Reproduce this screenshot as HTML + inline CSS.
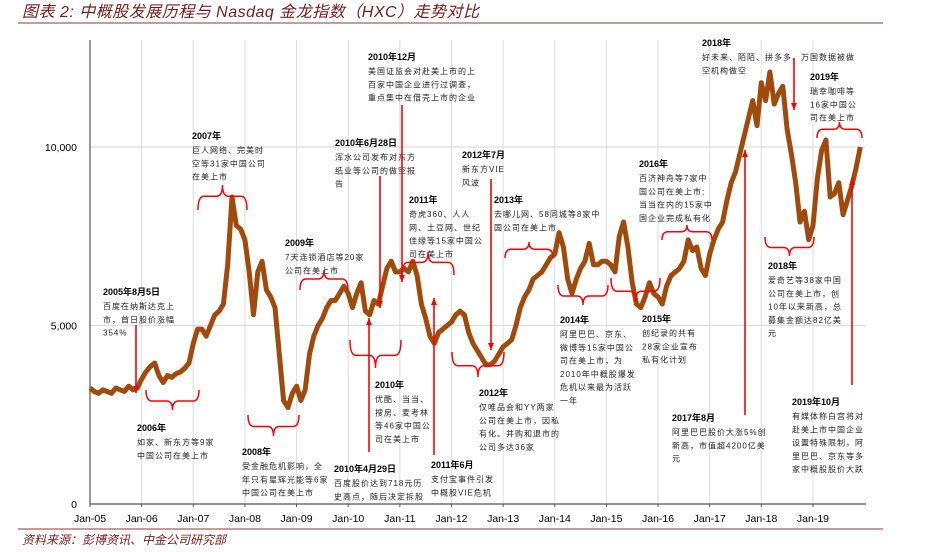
<!DOCTYPE html>
<html><head><meta charset="utf-8"><style>
body{margin:0;background:#fff;}
svg{display:block;}
.t{font-family:"Liberation Sans","Noto Sans CJK SC",sans-serif;}
.h{font-size:9px;font-weight:bold;fill:#000;}
.b{font-size:8px;fill:#222;letter-spacing:1px;}
.ax{font-size:10.5px;fill:#000;}
</style></head><body>
<svg id="chart" width="946" height="552" viewBox="0 0 946 552" xmlns="http://www.w3.org/2000/svg">
<text class="t" x="22" y="17" font-size="16" font-style="italic" fill="#7a1a1a" letter-spacing="0.5">图表 2:  中概股发展历程与 Nasdaq 金龙指数（HXC）走势对比</text>
<line x1="18" y1="23" x2="883" y2="23" stroke="#8a3a3a" stroke-width="1"/>
<line x1="18" y1="529" x2="883" y2="529" stroke="#8a3a3a" stroke-width="1"/>
<text class="t" x="22" y="544" font-size="12" font-style="italic" fill="#7a1a1a">资料来源：彭博资讯、中金公司研究部</text>
<g id="grid"></g>
<g id="axes"></g>
<g id="series"></g>
<g id="ann"></g>
</svg>
<script>
const startYear = 2005;
const yearLabels = ["Jan-05","Jan-06","Jan-07","Jan-08","Jan-09","Jan-10","Jan-11","Jan-12","Jan-13","Jan-14","Jan-15","Jan-16","Jan-17","Jan-18","Jan-19"];
const yTicks = [0,5000,10000];
const yTickLabels = ["0","5,000","10,000"];
const hxcMonthly = [
3250,3150,3100,3200,3150,3100,3250,3200,3150,3300,3200,3250,
3500,3700,3850,3950,3600,3400,3600,3550,3650,3700,3800,3950,
4500,4900,4900,4700,5000,5300,5400,5600,6700,8600,7800,7700,
7400,6500,5300,6500,6800,6000,5800,5500,4200,2900,2700,3100,
3300,2900,3200,4200,4700,5000,5200,5500,5700,5700,5900,6100,
5900,5500,5900,6200,5400,5300,5700,5600,6100,6600,6800,6500,
6500,6600,6500,6800,6400,5600,5200,4700,4500,4800,4900,5000,
5100,5300,5400,5300,4800,4500,4300,4100,3900,3900,4000,4200,
4400,4500,4600,5000,5500,5800,6000,6300,6400,6500,6700,6900,
7000,7600,7200,6300,5900,6300,6600,6800,7300,6700,6700,6800,
6800,6700,6500,7500,7900,7200,6200,5600,5500,5800,6200,5900,
5800,5600,6100,6400,6500,6600,6800,7400,7100,7200,6600,6400,
7000,7400,7700,7900,8500,9000,9300,9800,10300,10800,11300,10600,
11800,11300,12100,11200,11500,11700,10500,9800,9000,7900,8200,7400,
7800,9100,9900,10200,8600,8700,9000,8100,8500,8900,9400,10000];

const NS="http://www.w3.org/2000/svg";
const X0=90, YW=51.64, Y0=504, YS=178.5/5000, XEND=866;
const xs = yr => X0 + yr*YW;
const ys = v => Y0 - v*YS;
function mk(tag, attrs, parent){const e=document.createElementNS(NS,tag);for(const k in attrs)e.setAttribute(k,attrs[k]);parent.appendChild(e);return e;}
const grid=document.getElementById('grid'), axes=document.getElementById('axes'), series=document.getElementById('series'), ann=document.getElementById('ann');

yearLabels.forEach((lab,i)=>{
  const x=xs(i);
  if(i>0){const g=mk('line',{x1:x,y1:40,x2:x,y2:Y0,stroke:'#ddd','stroke-width':1},grid);
  
  }
  const tk=mk('line',{x1:x,y1:Y0,x2:x,y2:Y0+3,stroke:'#555'},axes);
  
  
  const t=mk('text',{x:x,y:Y0+18,'text-anchor':'middle',class:'t ax'},axes);t.textContent=lab;
  
  
});
yTicks.forEach((v,i)=>{
  const y=ys(v);
  if(v>0){const g=mk('line',{x1:X0,y1:y,x2:XEND,y2:y,stroke:'#ddd','stroke-width':1.2},grid);
  
  }
  const t=mk('text',{x:77,y:y+4,'text-anchor':'end',class:'t ax'},axes);t.textContent=yTickLabels[i];
  
  
});
const ya=mk('line',{x1:X0,y1:40,x2:X0,y2:Y0,stroke:'#555','stroke-width':1.2},axes);


const xa=mk('line',{x1:X0,y1:Y0,x2:XEND,y2:Y0,stroke:'#555','stroke-width':1.2},axes);



let d='';
hxcMonthly.forEach((v,i)=>{d+=(i?'L':'M')+xs(i/12).toFixed(1)+','+ys(v).toFixed(1);});
const ln=mk('path',{d:d,fill:'none',stroke:'#a04a0c','stroke-width':5,'stroke-linejoin':'round'},series);



const notes=[
[368,52,"2010年12月",["美国证监会对赴美上市的上","百家中国企业进行过调查，","重点集中在借壳上市的企业"]],
[192,131,"2007年",["巨人网络、完美时","空等31家中国公司","在美上市"]],
[335,138,"2010年6月28日",["浑水公司发布对东方","纸业等公司的做空报","告"]],
[462,150,"2012年7月",["新东方VIE","风波"]],
[494,195,"2013年",["去哪儿网、58同城等8家中","国公司在美上市"]],
[409,195,"2011年",["奇虎360、人人","网、土豆网、世纪","佳缘等15家中国公","司在美上市"]],
[285,238,"2009年",["7天连锁酒店等20家","公司在美上市"]],
[639,159,"2016年",["百济神舟等7家中","国公司在美上市;","当当在内的15家中","国企业完成私有化"]],
[702,38,"2018年",["好未来、陌陌、拼多多、万国数据被做","空机构做空"]],
[810,72,"2019年",["瑞幸咖啡等","16家中国公","司在美上市"]],
[103,287,"2005年8月5日",["百度在纳斯达克上","市，首日股价涨幅","354%"]],
[137,423,"2006年",["如家、新东方等9家","中国公司在美上市"]],
[242,447,"2008年",["受金融危机影响，全","年只有星辉光能等6家","中国公司在美上市"]],
[375,380,"2010年",["优酷、当当、","搜房、麦考林","等46家中国公","司在美上市"]],
[334,464,"2010年4月29日",["百度股价达到718元历","史高点，随后决定拆股"]],
[431,460,"2011年6月",["支付宝事件引发","中概股VIE危机"]],
[479,388,"2012年",["仅唯品会和YY两家","公司在美上市，因私","有化、并购和退市的","公司多达36家"]],
[560,315,"2014年",["阿里巴巴、京东、","微博等15家中国公","司在美上市，为","2010年中概股爆发","危机以来最为活跃","一年"]],
[642,314,"2015年",["创纪录的共有","28家企业宣布","私有化计划"]],
[672,413,"2017年8月",["阿里巴巴股价大涨5%创","新高，市值超4200亿美","元"]],
[768,261,"2018年",["爱奇艺等38家中国","公司在美上市，创","10年以来新高，总","募集金额达82亿美","元"]],
[792,397,"2019年10月",["有媒体称白宫将对","赴美上市中国企业","设置特殊限制，阿","里巴巴、京东等多","家中概股股价大跌"]]
];
notes.forEach(n=>{
  const g=mk('g',{},ann);
  
  
  const h=mk('text',{x:n[0],y:n[1]+8,class:'t h'},g);h.textContent=n[2];
  n[3].forEach((s,i)=>{const t=mk('text',{x:n[0],y:n[1]+8+14+i*13.3,class:'t b'},g);t.textContent=s;});
});
const arrows=[[402,105,282],[380,176,308],[491,179,350],[794,58,110],[136,325,393],[369,452,318],[434,455,298],[745,415,150],[852,385,178]];
arrows.forEach(a=>{
  const g=mk('g',{},ann);
  
  
  mk('line',{x1:a[0],y1:a[1],x2:a[0],y2:a[2],stroke:'#f00','stroke-width':1.6},g);
  const dir=a[2]>a[1]?1:-1;
  mk('polygon',{points:`${a[0]},${a[2]} ${a[0]-3},${a[2]-7*dir} ${a[0]+3},${a[2]-7*dir}`,fill:'#f00'},g);
});
const braces=[[198,247,210,185],[402,454,275,252],[300,348,290,270],[505,553,258,242],[662,712,240,225],[817,862,138,122],
[146,199,390,410],[248,299,415,436],[350,401,340,368],[452,504,352,377],[558,608,285,305],[611,660,278,302],[765,814,237,256]];
braces.forEach(b=>{
  const [x1,x2,ye,yt]=b, m=(x1+x2)/2, ym=ye+(yt-ye)*0.55, r=6;
  const p=`M${x1},${ye} Q${x1},${ym} ${x1+r},${ym} L${m-r},${ym} Q${m},${ym} ${m},${yt} Q${m},${ym} ${m+r},${ym} L${x2-r},${ym} Q${x2},${ym} ${x2},${ye}`;
  const e=mk('path',{d:p,fill:'none',stroke:'#f00','stroke-width':1.5},ann);
  
  
});
</script>
</body></html>
